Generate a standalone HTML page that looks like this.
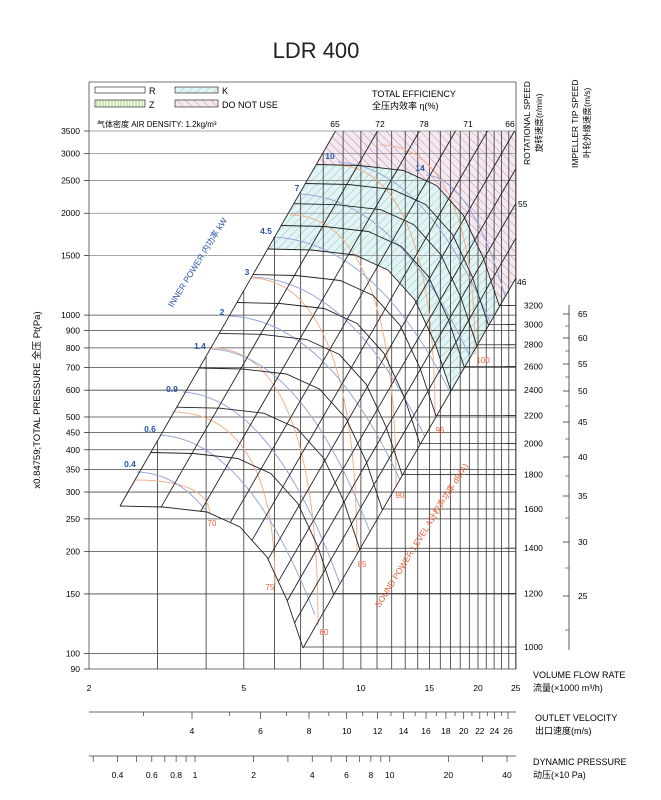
<!DOCTYPE html>
<html><head><meta charset="utf-8">
<style>
html,body{margin:0;padding:0;background:#fff;}
svg{display:block;font-family:"Liberation Sans","Noto Sans CJK SC",sans-serif;}
</style></head>
<body>
<svg id="s" width="661" height="800" viewBox="0 0 661 800" xmlns="http://www.w3.org/2000/svg">
<defs>
<pattern id="pc" patternUnits="userSpaceOnUse" width="6" height="6" patternTransform="rotate(45)">
<rect width="6" height="6" fill="#e2f4f3"/><line x1="0" y1="0" x2="0" y2="6" stroke="#7fbcc0" stroke-width="0.8"/></pattern>
<pattern id="pp" patternUnits="userSpaceOnUse" width="6" height="6" patternTransform="rotate(-45)">
<rect width="6" height="6" fill="#f5e8f1"/><line x1="0" y1="0" x2="0" y2="6" stroke="#a9809f" stroke-width="0.8"/></pattern>
<pattern id="pz" patternUnits="userSpaceOnUse" width="3" height="6">
<rect width="3" height="6" fill="#f2f9e8"/><line x1="1" y1="0" x2="1" y2="6" stroke="#8fbf60" stroke-width="0.7"/></pattern>
</defs>
<g id="g"></g>
<text x="316" y="58" font-size="22" text-anchor="middle" fill="#222">LDR 400</text>
<!-- legend -->
<rect x="95" y="87" width="50" height="6" fill="#fff" stroke="#333" stroke-width="0.7"/>
<text x="149" y="94" font-size="9">R</text>
<rect x="95" y="100" width="50" height="7" fill="url(#pz)" stroke="#333" stroke-width="0.7"/>
<text x="149" y="108" font-size="9">Z</text>
<rect x="175" y="87" width="43" height="6" fill="url(#pc)" stroke="#333" stroke-width="0.7"/>
<text x="222" y="94" font-size="9">K</text>
<rect x="175" y="100" width="43" height="7" fill="url(#pp)" stroke="#333" stroke-width="0.7"/>
<text x="222" y="108" font-size="9">DO NOT USE</text>
<text x="372" y="97" font-size="9">TOTAL EFFICIENCY</text>
<text x="372" y="109" font-size="9">全压内效率 η(%)</text>
<text x="97" y="127" font-size="8">气体密度 AIR DENSITY: 1.2kg/m³</text>
<g font-size="8.5" text-anchor="middle">
<text x="335" y="127">65</text><text x="380" y="127">72</text><text x="424" y="127">78</text><text x="468" y="127">71</text><text x="510" y="127">66</text>
</g>
<text x="518" y="207" font-size="8.5">55</text>
<text x="517" y="285" font-size="8.5">46</text>
<!-- right titles -->
<g font-size="8.5">
<text transform="translate(530,165) rotate(-90)">ROTATIONAL SPEED</text>
<text transform="translate(542,152) rotate(-90)">旋转速度(r/min)</text>
<text transform="translate(578,168) rotate(-90)">IMPELLER TIP SPEED</text>
<text transform="translate(590,158) rotate(-90)">叶轮外缘速度(m/s)</text>
</g>
<text transform="translate(40,400) rotate(-90)" font-size="9.5" text-anchor="middle">x0.84759;TOTAL PRESSURE 全压  Pt(Pa)</text>
<text transform="translate(200,264) rotate(-58)" font-size="8.5" fill="#2a56a8" text-anchor="middle">INNER POWER 内功率 kW</text>
<text transform="translate(424,537) rotate(-58)" font-size="8.5" fill="#e8603a" text-anchor="middle">SOUND POWER LEVEL A计权声功率 dB(A)</text>
<!-- bottom titles -->
<g font-size="9">
<text x="533" y="678">VOLUME FLOW RATE</text>
<text x="533" y="691">流量(×1000 m³/h)</text>
<text x="535" y="721">OUTLET VELOCITY</text>
<text x="535" y="734">出口速度(m/s)</text>
<text x="533" y="765">DYNAMIC PRESSURE</text>
<text x="533" y="778">动压(×10 Pa)</text>
</g>
</svg>
<script>
(function(){
var g=document.getElementById('g'),NS='http://www.w3.org/2000/svg';
function el(t,a,txt){var e=document.createElementNS(NS,t);for(var k in a)e.setAttribute(k,a[k]);if(txt!=null)e.textContent=txt;g.appendChild(e);return e;}
function L(x1,y1,x2,y2,c,w){el('line',{x1:x1,y1:y1,x2:x2,y2:y2,stroke:c||'#333','stroke-width':w||0.8});}
var S=1.738, X0=89, XR=516, YT=131, YB=669;
function fx(q){return 89+389*Math.log10(q/2);}
function py(p){return 131+338.4*Math.log10(3500/p);}
var base=[[120,506],[163,507],[207,512],[240,527],[267,557],[287,600],[303,648]];
function arc(n){var l=Math.log10(n/1000),dx=389*l,dy=-676*l;return base.map(function(p){return [p[0]+dx,p[1]+dy];});}
function pts(a){return a.map(function(p){return p[0].toFixed(1)+','+p[1].toFixed(1);}).join(' ');}
// hatch regions
var a24=arc(2400),a32=arc(3200);
var cy=a24.concat(a32.slice().reverse());
el('polygon',{points:pts(cy),fill:'url(#pc)'});
var pk=[[316+ (165-131)/S,131],[XR,131],[XR,648-S*(XR-303)]].concat(a32.slice().reverse());
el('polygon',{points:pts(pk),fill:'url(#pp)'});
// frame
L(X0,82,XR,82,'#444',0.8);L(X0,82,X0,YB,'#444',0.8);L(XR,82,XR,YB,'#444',0.8);
// pressure lines
var P=[3500,3000,2500,2000,1500,1000,900,800,700,600,500,450,400,350,300,250,200,150,100,90];
P.forEach(function(p){var y=py(p);L(X0,y,XR,y,p>=1500?'#888':'#444',0.8);L(84,y,X0,y,'#333',0.8);
 el('text',{x:80,y:y+3,'font-size':8.5,'text-anchor':'end'},String(p));});
// vertical flow lines
var Q=[3,4,5,6,7,8,9,10,11,12,13,14,15,16,17,18,19,20,21,22,23,24,25];
Q.forEach(function(q){var x=fx(q);var yt=x<120?YT:Math.max(YT,506-S*(x-120));L(x,yt,x,YB,'#333',0.8);});
[[2,'2'],[5,'5'],[10,'10'],[15,'15'],[20,'20'],[25,'25']].forEach(function(v){el('text',{x:fx(v[0]),y:691,'font-size':8.5,'text-anchor':'middle'},v[1]);});
// speed lines
var N=[1000,1200,1400,1600,1800,2000,2200,2400,2600,2800,3000,3200];
N.forEach(function(n){var y=647-676*Math.log10(n/1000);var xb=303+(648-y)/S;L(xb,y,XR,y,'#333',0.8);L(505,y,XR,y,'#333',0.8);
 el('text',{x:524,y:y+3,'font-size':8.5},String(n));});
// tip speed axis
L(569,305,569,650,'#333',0.8);
var T=[[65,314],[60,338],[55,364],[50,391],[45,422],[40,457],[35,496],[30,542],[25,596]];
T.forEach(function(t){L(563,t[1],569,t[1],'#333',0.8);el('text',{x:578,y:t[1]+3,'font-size':8.5},String(t[0]));});
[326,351,377,406,439,476,518,568,630].forEach(function(y){L(565,y,569,y,'#333',0.6);});
// orange sound curves
var OR=[[135,480,210,515,'70',212,526],[172,412,275,585,'75',270,590],[212,348,318,625,'80',324,635],[250,278,357,555,'85',362,567],[290,215,396,485,'90',400,498],[335,165,435,420,'95',440,433],[380,145,475,355,'100',483,363]];
OR.forEach(function(o){var sx=o[0],sy=o[1],ex=o[2],ey=o[3];
 el('path',{d:'M'+sx+','+sy+' C'+(sx+0.6*(ex-sx))+','+sy+' '+ex+','+(sy+0.3*(ey-sy))+' '+ex+','+ey,fill:'none',stroke:'#f2b08e','stroke-width':1});
 el('text',{x:o[5],y:o[6],'font-size':8,fill:'#e8603a','text-anchor':'middle'},o[4]);});
// blue power curves
var BL=[['0.4',130,467,137,472,207,512],['0.6',150,432,160,435,315,615],['0.9',172,392,183,392,340,584],['1.4',200,349,212,349,370,532],['2',222,315,230,316,400,480],['3',247,275,253,277,425,437],['4.5',266,234,273,237,450,392],['7',297,191,300,194,470,357],['10',330,159,338,162,490,322],['14',420,171,426,175,505,296]];
BL.forEach(function(b){var sx=b[3],sy=b[4],ex=b[5],ey=b[6];var cx=sx+0.57*(ex-sx),cyy=sy+0.03*(ey-sy);
 el('path',{d:'M'+sx+','+sy+' Q'+cx+','+cyy+' '+ex+','+ey,fill:'none',stroke:'#97a9d8','stroke-width':1});
 el('text',{x:b[1],y:b[2],'font-size':8.5,fill:'#2a56a8','text-anchor':'middle','font-weight':'bold'},b[0]);});
// black arcs
N.forEach(function(n){el('polyline',{points:pts(arc(n)),fill:'none',stroke:'#222','stroke-width':0.9});});
// diagonals
var xs=[198,240,282,318,350,377,400,420,440,463];
xs.forEach(function(x){var c=370+S*x;var p0=null;
 for(var i=0;i<base.length-1;i++){var a=base[i],b=base[i+1],ca=a[1]+S*a[0],cb=b[1]+S*b[0];
  if((c-ca)*(c-cb)<=0){var t=(c-ca)/(cb-ca);p0=[a[0]+t*(b[0]-a[0]),a[1]+t*(b[1]-a[1])];break;}}
 if(!p0)p0=c<715?base[0]:base[6];
 var x1=(c-YT)/S,y1=YT;if(x1>XR){x1=XR;y1=c-S*XR;}
 L(p0[0],p0[1],x1,y1,'#222',0.9);});
// bottom axes
L(X0,712,XR,712,'#333',0.8);
function vx(v){return 192+(v<=4?0:0)+ (Math.log10(v/4))*( (508-192)/Math.log10(26/4));}
for(var v=3;v<=26;v+=1){var x=vx(v);if(x<X0)continue;L(x,712,x,(v%2==0)?719:716,'#333',0.7);}
[4,6,8,10,12,14,16,18,20,22,24,26].forEach(function(v){el('text',{x:vx(v),y:734,'font-size':8.5,'text-anchor':'middle'},String(v));});
L(X0,756,XR,756,'#333',0.8);
function dx(p){return 195+Math.log10(p)*((507-195)/Math.log10(40));}
[0.3,0.4,0.5,0.6,0.7,0.8,0.9,1,2,3,4,5,6,7,8,9,10,20,30,40].forEach(function(p){var x=dx(p);if(x<X0)return;L(x,756,x,762,'#333',0.7);});
[['0.4',0.4],['0.6',0.6],['0.8',0.8],['1',1],['2',2],['4',4],['6',6],['8',8],['10',10],['20',20],['40',40]].forEach(function(d){el('text',{x:dx(d[1]),y:778,'font-size':8.5,'text-anchor':'middle'},d[0]);});
})();
</script>
</body></html>
